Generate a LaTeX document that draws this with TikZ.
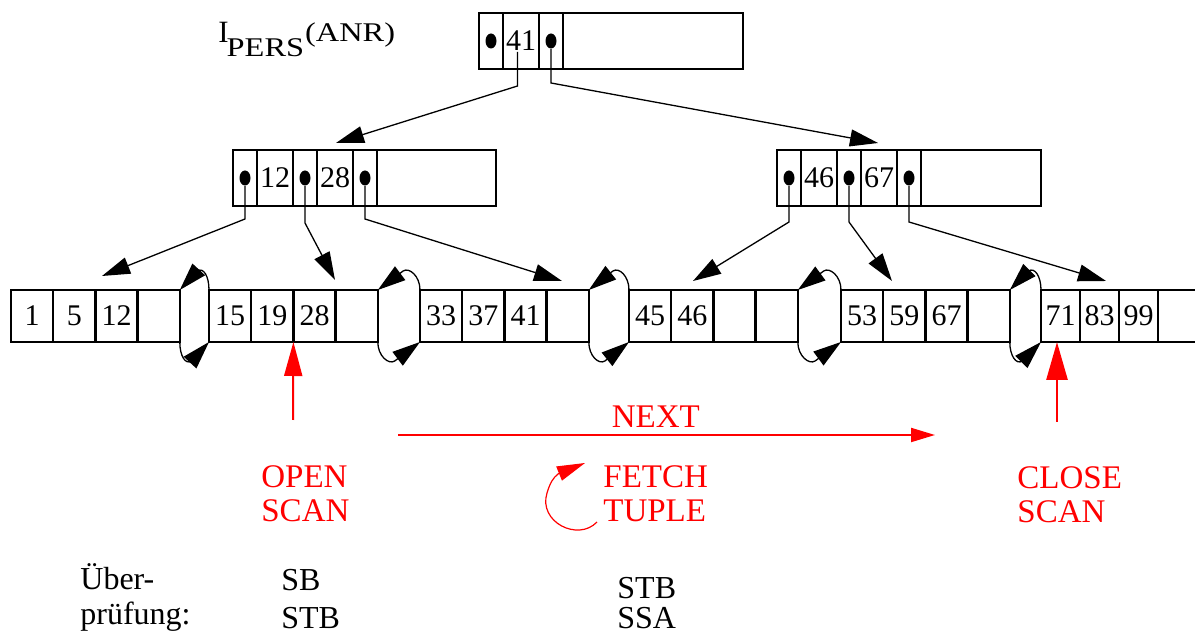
\documentclass[tikz,border=0pt]{standalone}
\usepackage{fontspec}
\setmainfont{Liberation Serif}
\usepackage{xcolor}
\usetikzlibrary{arrows.meta, positioning, shapes.geometric, calc}
\tikzset{
  cell/.style={draw, line width=1.25pt, inner sep=0pt, outer sep=0pt,
               minimum height=28pt, font=\fontsize{15}{15}\selectfont},
  ptrcell/.style={cell, minimum width=12pt},
  keycell/.style={cell, minimum width=18pt},
  leafcell/.style={cell, minimum width=21.1pt, minimum height=26pt},
  ptrdot/.style={ellipse, fill, inner sep=0pt, minimum width=5.5pt, minimum height=7.5pt},
  ptr/.style={line width=0.65pt, -{Triangle[length=14pt, width=8.5pt]}},
  nextlink/.style={ptr, to path={.. controls +(0,14) and +(-6,4) ..
      ($(\tikztostart)!0.4!(\tikztotarget)+(0,19)$) -- (\tikztotarget)}},
  prevlink/.style={ptr, to path={.. controls +(0,-14) and +(6,-4) ..
      ($(\tikztostart)!0.4!(\tikztotarget)+(0,-19)$) -- (\tikztotarget)}},
  scanarrow/.style={red, line width=1.4pt, -{Triangle[length=19pt, width=10.5pt]}},
  nextarrow/.style={red, line width=1pt, -{Triangle[length=12pt, width=7pt]}},
  fetchloop/.style={red, line width=0.6pt, -{Triangle[length=14pt, width=7.5pt]}},
  redlabel/.style={red, align=left, inner sep=0pt, font=\fontsize{16.5}{17}\selectfont},
  checklabel/.style={align=left, inner sep=0pt, font=\fontsize{16}{17.5}\selectfont}
}

\begin{document}
\begin{tikzpicture}[x=0.5pt, y=-0.5pt]
\useasboundingbox (0,0) rectangle (1195,635);

% Index name
\node[anchor=base west, inner sep=0pt, font=\fontsize{15.5}{15.5}\selectfont] (title) at (218,43)
  {I\kern-1pt\raisebox{-7pt}{\scalebox{1.2}[1]{\fontsize{13.5}{13.5}\selectfont PERS}}\kern0.5pt\raisebox{0.5pt}{\scalebox{1.2}[1]{\fontsize{13.5}{13.5}\selectfont (ANR)}}};

% Root
\node[ptrcell, anchor=west] (rp1) at (479,41) {};
\node[keycell, right=0pt of rp1] (rk1) {41};
\node[ptrcell, right=0pt of rk1] (rp2) {};
\node[cell, minimum width=90pt, right=0pt of rp2] (rr) {};
\node[ptrdot] (rd1) at (rp1) {};
\node[ptrdot] (rd2) at (rp2) {};

% Inner nodes
\node[ptrcell, anchor=west] (ap1) at (233,178) {};
\node[keycell, right=0pt of ap1] (ak1) {12};
\node[ptrcell, right=0pt of ak1] (ap2) {};
\node[keycell, right=0pt of ap2] (ak2) {28};
\node[ptrcell, right=0pt of ak2] (ap3) {};
\node[cell, minimum width=59.5pt, right=0pt of ap3] (ar) {};
\node[ptrdot] (ad1) at (ap1) {};
\node[ptrdot] (ad2) at (ap2) {};
\node[ptrdot] (ad3) at (ap3) {};

\node[ptrcell, anchor=west] (bp1) at (777,178) {};
\node[keycell, right=0pt of bp1] (bk1) {46};
\node[ptrcell, right=0pt of bk1] (bp2) {};
\node[keycell, right=0pt of bp2] (bk2) {67};
\node[ptrcell, right=0pt of bk2] (bp3) {};
\node[cell, minimum width=60pt, right=0pt of bp3] (br) {};
\node[ptrdot] (bd1) at (bp1) {};
\node[ptrdot] (bd2) at (bp2) {};
\node[ptrdot] (bd3) at (bp3) {};

% Leaves
\node[leafcell, anchor=west] (l1a) at (11,316) {1};
\node[leafcell, right=0pt of l1a] (l1b) {5};
\node[leafcell, right=0pt of l1b] (l1c) {12};
\node[leafcell, right=0pt of l1c] (l1d) {};

\node[leafcell, anchor=west] (l2a) at (209,316) {15};
\node[leafcell, right=0pt of l2a] (l2b) {19};
\node[leafcell, right=0pt of l2b] (l2c) {28};
\node[leafcell, right=0pt of l2c] (l2d) {};

\node[leafcell, anchor=west] (l3a) at (420,316) {33};
\node[leafcell, right=0pt of l3a] (l3b) {37};
\node[leafcell, right=0pt of l3b] (l3c) {41};
\node[leafcell, right=0pt of l3c] (l3d) {};

\node[leafcell, anchor=west] (l4a) at (629,316) {45};
\node[leafcell, right=0pt of l4a] (l4b) {46};
\node[leafcell, right=0pt of l4b] (l4c) {};
\node[leafcell, right=0pt of l4c] (l4d) {};

\node[leafcell, anchor=west] (l5a) at (841,316) {53};
\node[leafcell, right=0pt of l5a] (l5b) {59};
\node[leafcell, right=0pt of l5b] (l5c) {67};
\node[leafcell, right=0pt of l5c] (l5d) {};

\node[leafcell, minimum width=19.5pt, anchor=west] (l6a) at (1041,316) {71};
\node[leafcell, minimum width=19.5pt, right=0pt of l6a] (l6b) {83};
\node[leafcell, minimum width=19.5pt, right=0pt of l6b] (l6c) {99};
\node[leafcell, minimum width=22pt, right=0pt of l6c] (l6d) {};

% Pointer ends
\coordinate (ra) at (336,143);
\coordinate (rb) at (878,143);
\coordinate (t1) at (102,276);
\coordinate (t2) at (335,280);
\coordinate (t3) at (562,281);
\coordinate (t4) at (693,281);
\coordinate (t5) at (892,281);
\coordinate (t6) at (1106,281);

% Tree pointers
\draw[ptr] ([xshift=-1.75pt, yshift=-5.5pt]rk1.center) -- ++(0,34) -- (ra);
\draw[ptr] (rd2) -- ++(0,42) -- (rb);
\draw[ptr] (ad1) -- ++(0,41) -- (t1);
\draw[ptr] (ad2) -- ++(0,45) -- (t2);
\draw[ptr] (ad3) -- ++(0,41) -- (t3);
\draw[ptr] (bd1) -- ++(0,44) -- (t4);
\draw[ptr] (bd2) -- ++(0,44) -- (t5);
\draw[ptr] (bd3) -- ++(0,44) -- (t6);

% Leaf chain
\draw[nextlink] (l1d.south east) to (l2a.south west);
\draw[prevlink] (l2a.north west) to (l1d.north east);
\draw[nextlink] (l2d.south east) to (l3a.south west);
\draw[prevlink] (l3a.north west) to (l2d.north east);
\draw[nextlink] (l3d.south east) to (l4a.south west);
\draw[prevlink] (l4a.north west) to (l3d.north east);
\draw[nextlink] (l4d.south east) to (l5a.south west);
\draw[prevlink] (l5a.north west) to (l4d.north east);
\draw[nextlink] (l5d.south east) to (l6a.south west);
\draw[prevlink] (l6a.north west) to (l5d.north east);

% Scan
\coordinate (os) at (293,420);
\coordinate (cs) at (1057,422);
\draw[scanarrow, line width=1pt, -{Triangle[length=17pt, width=9pt]}] (os) -- (l2c.south west);
\draw[scanarrow] (cs) -- (cs |- l6a.south);

\coordinate (n1) at (398,435);
\coordinate (n2) at (935,435);
\draw[nextarrow] (n1) -- node[pos=0.48, above=3pt, inner sep=0pt, red,
  font=\fontsize{16.5}{17}\selectfont] (nextlbl) {NEXT} (n2);

\node[redlabel, anchor=base west] (open) at (261,522) {OPEN\\SCAN};
\node[redlabel, anchor=base west] (fetch) at (603,522) {FETCH\\TUPLE};
\node[redlabel, anchor=base west] (close) at (1017,523) {CLOSE\\SCAN};

\coordinate (fl1) at (597,522);
\coordinate (fl2) at (585,463);
\draw[fetchloop] (fl1) .. controls (578,542) and (538,522) .. (547,493)
  .. controls (550,483) and (553,478) .. (558,474) -- (fl2);

% Checks
\node[checklabel, anchor=base west] (check) at (80,625) {Über-\\prüfung:};
\node[checklabel, anchor=base west] (opencheck) at (281,629) {SB\\[1.5pt]STB};
\node[checklabel, anchor=base west] (fetchcheck) at (617,629) {STB\\[-2.5pt]SSA};

\end{tikzpicture}
\end{document}
